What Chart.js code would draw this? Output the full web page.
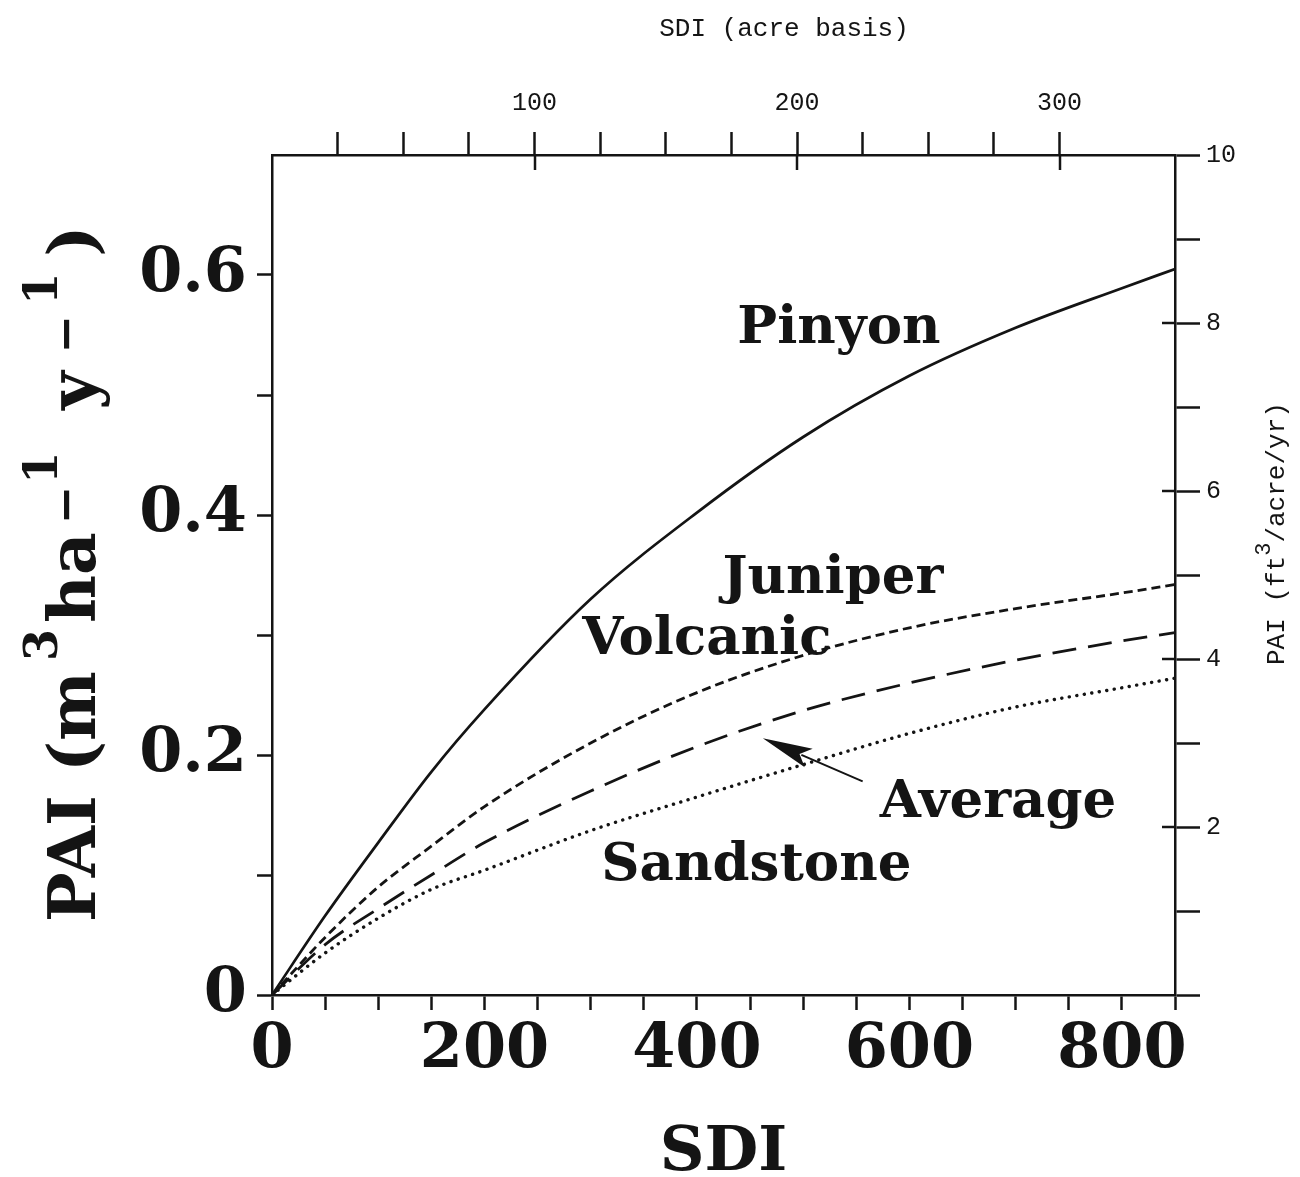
<!DOCTYPE html>
<html>
<head>
<meta charset="utf-8">
<title>PAI vs SDI</title>
<script src="https://cdn.jsdelivr.net/npm/chart.js@4.4.1/dist/chart.umd.min.js"></script>
<style>
  html, body { margin: 0; padding: 0; background: #fff; }
  #wrap { width: 1300px; height: 1177px; }
</style>
</head>
<body>
<div id="wrap"><canvas id="paiChart" width="1300" height="1177"></canvas></div>
<script>
// SDI (hectare basis) sample points and PAI (m3/ha/yr)
var sdi = [0, 50, 100, 150, 200, 300, 400, 500, 600, 700, 800, 850];
var pinyon = [0, 0.066, 0.127, 0.186, 0.238, 0.330, 0.402, 0.465, 0.516, 0.556, 0.589, 0.605];
var juniperVolcanic = [0, 0.048, 0.090, 0.124, 0.157, 0.210, 0.252, 0.283, 0.306, 0.322, 0.335, 0.342];
var average = [0, 0.042, 0.072, 0.100, 0.127, 0.170, 0.207, 0.237, 0.260, 0.279, 0.295, 0.302];
var sandstone = [0, 0.035, 0.064, 0.088, 0.104, 0.137, 0.165, 0.192, 0.218, 0.240, 0.256, 0.264];

var bottomTickLabels = [0, 200, 400, 600, 800];
var leftTickLabels = [0, 0.2, 0.4, 0.6];
var topTickLabels = [100, 200, 300];
var rightTickLabels = [2, 4, 6, 8, 10];

var SDI_MAX = 850;
var PAI_MAX = 0.7;
var HA_PER_ACRE = 2.471;          // SDI per ha -> SDI per acre
var FT3ACRE_PER_M3HA = 14.291;    // m3/ha -> ft3/acre

var ink = '#141414';

// text written on the plot, anchored in data units
var curveLabels = [
    { text: 'Pinyon', x: 438, y: 0.543 },
    { text: 'Juniper', x: 424, y: 0.335 },
    { text: 'Volcanic', x: 292, y: 0.284 },
    { text: 'Average', x: 572, y: 0.148 },
    { text: 'Sandstone', x: 310, y: 0.096 }
];
var arrowNote = { from: { x: 556, y: 0.178 }, to: { x: 462, y: 0.214 } };

function pts(values) {
    return sdi.map(function (s, i) { return { x: s, y: values[i] }; });
}

function near(list, v) {
    return list.some(function (l) { return Math.abs(l - v) < 1e-6; });
}

// draws a run of text pieces along the current x direction, some raised as superscripts
function drawRuns(ctx, runs) {
    var pos = 0;
    runs.forEach(function (r) {
        pos += r.before || 0;
        ctx.font = r.font;
        ctx.fillText(r.text, pos, -(r.raise || 0));
        pos += ctx.measureText(r.text).width;
    });
}

var paperPlugin = {
    id: 'paper',
    afterDraw: function (chart) {
        var ctx = chart.ctx;
        var area = chart.chartArea;
        var xs = chart.scales.x, ys = chart.scales.y;
        var xt = chart.scales.x2, yr = chart.scales.y2;

        ctx.save();
        ctx.strokeStyle = ink;
        ctx.fillStyle = ink;
        ctx.lineWidth = 2.5;

        // labelled ticks on the top and right axes also cross into the frame
        xt.ticks.forEach(function (t) {
            if (!near(topTickLabels, t.value)) return;
            var px = Math.round(xt.getPixelForValue(t.value));
            ctx.beginPath();
            ctx.moveTo(px, area.top);
            ctx.lineTo(px, area.top + 15);
            ctx.stroke();
        });
        yr.ticks.forEach(function (t) {
            if (!near(rightTickLabels, t.value) || t.value >= 10) return;
            var py = Math.round(yr.getPixelForValue(t.value));
            ctx.beginPath();
            ctx.moveTo(area.right, py);
            ctx.lineTo(area.right - 13, py);
            ctx.stroke();
        });

        // curve names
        ctx.font = 'bold 53px "DejaVu Serif"';
        ctx.textAlign = 'left';
        ctx.textBaseline = 'alphabetic';
        curveLabels.forEach(function (l) {
            ctx.fillText(l.text, xs.getPixelForValue(l.x), ys.getPixelForValue(l.y));
        });

        // arrow pointing at the Average curve
        var ax0 = xs.getPixelForValue(arrowNote.from.x), ay0 = ys.getPixelForValue(arrowNote.from.y);
        var ax1 = xs.getPixelForValue(arrowNote.to.x), ay1 = ys.getPixelForValue(arrowNote.to.y);
        var ang = Math.atan2(ay1 - ay0, ax1 - ax0);
        var headLen = 50, headHalf = 10;
        var bx = ax1 - headLen * Math.cos(ang), by = ay1 - headLen * Math.sin(ang);
        ctx.lineWidth = 2;
        ctx.beginPath();
        ctx.moveTo(ax0, ay0);
        ctx.lineTo(bx + 8 * Math.cos(ang), by + 8 * Math.sin(ang));
        ctx.stroke();
        ctx.beginPath();
        ctx.moveTo(ax1, ay1);
        ctx.lineTo(bx + headHalf * Math.sin(ang), by - headHalf * Math.cos(ang));
        ctx.lineTo(bx + 10 * Math.cos(ang), by + 10 * Math.sin(ang));
        ctx.lineTo(bx - headHalf * Math.sin(ang), by + headHalf * Math.cos(ang));
        ctx.closePath();
        ctx.fill();

        // left axis title, reading upwards
        ctx.save();
        ctx.translate(95, 922);
        ctx.rotate(-Math.PI / 2);
        var big = 'bold 66px "DejaVu Serif"', sup = 'bold 46px "DejaVu Serif"';
        drawRuns(ctx, [
            { text: 'PAI (m', font: big },
            { text: '3', font: sup, raise: 38, before: 10 },
            { text: 'ha', font: big, before: 6 },
            { text: '\u2212', font: sup, raise: 14, before: 8 },
            { text: '1', font: sup, raise: 38, before: 2 },
            { text: 'y', font: big, before: 42 },
            { text: '\u2212', font: sup, raise: 14, before: 18 },
            { text: '1', font: sup, raise: 38, before: 10 },
            { text: ')', font: big, before: 16 }
        ]);
        ctx.restore();

        // right axis title, reading upwards
        ctx.save();
        ctx.translate(1284, 665);
        ctx.rotate(-Math.PI / 2);
        drawRuns(ctx, [
            { text: 'PAI (ft', font: '26px "Liberation Mono"' },
            { text: '3', font: '22px "Liberation Mono"', raise: 14 },
            { text: '/acre/yr)', font: '26px "Liberation Mono"' }
        ]);
        ctx.restore();

        // top axis title
        ctx.font = '26px "Liberation Mono"';
        ctx.textAlign = 'center';
        ctx.fillText('SDI (acre basis)', area.left + 0.567 * (area.right - area.left), 36);

        ctx.restore();
    }
};

var axisBorder = { display: true, color: ink, width: 2.5 };
function tickGrid(len) {
    return { drawOnChartArea: false, drawTicks: true, tickLength: len, tickWidth: 2.5, tickColor: ink };
}
var bigTickFont = { family: 'DejaVu Serif', size: 62, weight: 'bold' };
var smallTickFont = { family: 'Liberation Mono', size: 25 };

var ctx = document.getElementById('paiChart').getContext('2d');
window.paiChart = new Chart(ctx, {
    type: 'line',
    data: {
        datasets: [
            {
                label: 'Pinyon',
                data: pts(pinyon),
                borderColor: ink,
                borderWidth: 2.7
            },
            {
                label: 'Juniper Volcanic',
                data: pts(juniperVolcanic),
                borderColor: ink,
                borderWidth: 2.8,
                borderDash: [9, 5]
            },
            {
                label: 'Average',
                data: pts(average),
                borderColor: ink,
                borderWidth: 2.8,
                borderDash: [24, 12]
            },
            {
                label: 'Sandstone',
                data: pts(sandstone),
                borderColor: ink,
                borderWidth: 3.4,
                borderCapStyle: 'round',
                borderDash: [0.1, 7.5]
            }
        ]
    },
    options: {
        responsive: false,
        animation: false,
        layout: { padding: 0 },
        elements: {
            point: { radius: 0 },
            line: { cubicInterpolationMode: 'monotone', fill: false }
        },
        plugins: {
            legend: { display: false },
            tooltip: { enabled: false }
        },
        scales: {
            x: {
                type: 'linear',
                position: 'bottom',
                min: 0,
                max: SDI_MAX,
                afterFit: function (s) { s.height = 182; },
                border: axisBorder,
                grid: tickGrid(15),
                ticks: {
                    stepSize: 50,
                    autoSkip: false,
                    maxRotation: 0,
                    padding: 4,
                    color: ink,
                    font: bigTickFont,
                    callback: function (v) { return near(bottomTickLabels, v) ? String(v) : ''; }
                },
                title: {
                    display: true,
                    text: 'SDI',
                    color: ink,
                    padding: 0,
                    font: { family: 'DejaVu Serif', size: 62, weight: 'bold', lineHeight: 0.75 }
                }
            },
            x2: {
                type: 'linear',
                position: 'top',
                min: 0,
                max: SDI_MAX / HA_PER_ACRE,
                afterFit: function (s) { s.height = 155; },
                afterBuildTicks: function (s) {
                    s.ticks = s.ticks.filter(function (t) { return t.value > 0 && t.value % 25 === 0; });
                },
                border: axisBorder,
                grid: tickGrid(23),
                ticks: {
                    stepSize: 25,
                    autoSkip: false,
                    maxRotation: 0,
                    padding: 14,
                    color: ink,
                    font: smallTickFont,
                    callback: function (v) { return near(topTickLabels, v) ? String(v) : ''; }
                }
            },
            y: {
                type: 'linear',
                position: 'left',
                min: 0,
                max: PAI_MAX,
                afterFit: function (s) { s.width = 272; },
                afterBuildTicks: function (s) {
                    s.ticks = s.ticks.filter(function (t) { return t.value < PAI_MAX - 0.01; });
                },
                border: axisBorder,
                grid: tickGrid(15),
                ticks: {
                    stepSize: 0.1,
                    autoSkip: false,
                    padding: 10,
                    color: ink,
                    font: bigTickFont,
                    callback: function (v) {
                        if (!near(leftTickLabels, v)) return '';
                        return v === 0 ? '0' : v.toFixed(1);
                    }
                }
            },
            y2: {
                type: 'linear',
                position: 'right',
                min: 0,
                max: Math.round(PAI_MAX * FT3ACRE_PER_M3HA * 100) / 100,
                afterFit: function (s) { s.width = 125; },
                border: axisBorder,
                grid: tickGrid(25),
                ticks: {
                    stepSize: 1,
                    autoSkip: false,
                    padding: 6,
                    color: ink,
                    font: smallTickFont,
                    callback: function (v) { return near(rightTickLabels, v) ? String(v) : ''; }
                }
            }
        }
    },
    plugins: [paperPlugin]
});
</script>
</body>
</html>
